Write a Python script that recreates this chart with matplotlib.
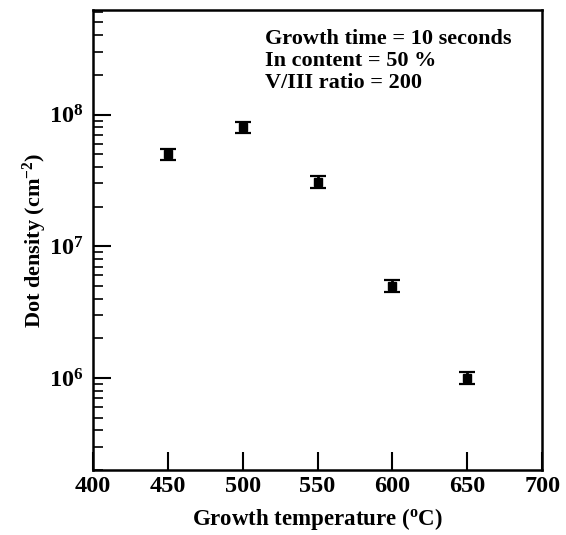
import matplotlib
matplotlib.use("Agg")
import math
import matplotlib.pyplot as plt
from matplotlib.ticker import LogLocator, FixedLocator, FuncFormatter, NullFormatter

plt.rcParams['font.family'] = ['Liberation Serif', 'DejaVu Serif']
plt.rcParams['font.weight'] = 'bold'
plt.rcParams['mathtext.fontset'] = 'custom'
plt.rcParams['mathtext.rm'] = 'Liberation Serif:bold'
plt.rcParams['mathtext.it'] = 'Liberation Serif:bold'
plt.rcParams['mathtext.bf'] = 'Liberation Serif:bold'

temperature = [450, 500, 550, 600, 650]
density = [5.0e7, 8.0e7, 3.1e7, 5.0e6, 1.0e6]
density_err = [5.0e6, 8.0e6, 3.1e6, 5.0e5, 1.0e5]
x_ticks = [400, 450, 500, 550, 600, 650, 700]
annotation = ["Growth time = 10 seconds", "In content = 50 %", "V/III ratio = 200"]

fig = plt.figure(figsize=(5.66, 5.35), dpi=100)
ax = fig.add_axes([0.164, 0.1215, 0.794, 0.8595])

ax.errorbar(temperature, density, yerr=density_err, fmt='s', color='black',
            markersize=5.5, elinewidth=2, capsize=6, capthick=1.6, ecolor='black')

ax.set_yscale('log')
ax.set_xlim(400, 700)
ax.set_ylim(2.0e5, 6.2e8)

ax.xaxis.set_major_locator(FixedLocator(x_ticks))
ax.yaxis.set_major_locator(LogLocator(base=10, numticks=10))
ax.yaxis.set_minor_locator(LogLocator(base=10, subs=range(2, 10), numticks=20))
ax.yaxis.set_minor_formatter(NullFormatter())

def yfmt(v, pos):
    e = int(round(math.log10(v)))
    return r'$\mathbf{10^{%d}}$' % e
ax.yaxis.set_major_formatter(FuncFormatter(yfmt))

ax.tick_params(axis='both', which='major', direction='in', length=13, width=1.5,
               labelsize=17.5, top=False, right=False)
ax.tick_params(axis='x', which='major', pad=4)
ax.tick_params(axis='y', which='major', pad=7)
ax.tick_params(axis='y', which='minor', direction='in', length=7, width=1.2, right=False)
for lab in ax.get_xticklabels() + ax.get_yticklabels():
    lab.set_fontweight('bold')

for s in ax.spines.values():
    s.set_linewidth(1.8)

ax.set_xlabel(r'Growth temperature ($^{\mathrm{o}}$C)', fontsize=16.5, fontweight='bold', labelpad=7)
ax.set_ylabel(r'Dot density (cm$^{-2}$)', fontsize=16, fontweight='bold', labelpad=0)

for i, line in enumerate(annotation):
    ax.text(0.383, 0.937 - i * 0.048, line, transform=ax.transAxes, fontsize=16,
            fontweight='bold', va='center', ha='left')

fig.savefig('out.png', dpi=100)
